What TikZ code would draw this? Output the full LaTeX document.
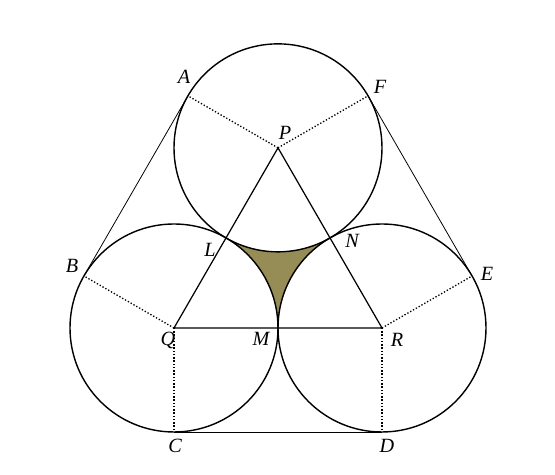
\documentclass[tikz,border=0pt]{standalone}
\usepackage{fontspec}
\setmainfont{Liberation Serif}
\usetikzlibrary{calc}
\definecolor{cS}{HTML}{968C55}
\tikzset{
  rim/.style={line width=0.8pt},
  side/.style={line width=0.7pt},
  spoke/.style={line width=0.75pt,dash pattern=on 0.75pt off 1.1pt},
  tang/.style={line width=0.45pt},
  lbl/.style={font=\fontsize{11.5}{13}\selectfont\itshape,inner sep=0pt},
}
\begin{document}
\begin{tikzpicture}[x=0.02cm,y=0.02cm]
  \useasboundingbox (0,0) rectangle (555,475);
  \def\r{104}
  \coordinate (Q) at (174,147);
  \coordinate (R) at (382,147);
  \coordinate (P) at ($(Q)!1!60:(R)$);
  \coordinate (L) at ($(P)!.5!(Q)$);
  \coordinate (N) at ($(P)!.5!(R)$);
  \coordinate (M) at ($(Q)!.5!(R)$);
  % points of contact of the belt
  \coordinate (A) at ($(P)+(150:\r)$);
  \coordinate (F) at ($(P)+(30:\r)$);
  \coordinate (B) at ($(Q)+(150:\r)$);
  \coordinate (C) at ($(Q)+(270:\r)$);
  \coordinate (D) at ($(R)+(270:\r)$);
  \coordinate (E) at ($(R)+(30:\r)$);
  \fill[cS] (L) arc[start angle=240,end angle=300,radius=\r]
     arc[start angle=120,end angle=180,radius=\r]
     arc[start angle=0,end angle=60,radius=\r] -- cycle;
  \foreach \c in {P,Q,R}
    \draw[rim] (\c) circle[radius=\r];
  \draw[side] (P) -- (Q) -- (R) -- cycle;
  \foreach \c/\t in {P/A,P/F,Q/B,Q/C,R/D,R/E}
    \draw[spoke] (\c) -- (\t);
  \foreach \s/\t in {A/B,C/D,E/F}
    \draw[tang] (\s) -- (\t);
  \foreach \p/\dx/\dy in {A/-4/19,F/12/9,P/7/15,L/-16/-12,N/22/-3,M/-17/-11,
                          Q/-6/-12,R/15/-12,C/1/-14,D/5/-14,B/-12/10,E/15/2}
    \node[lbl] (l\p) at ($(\p)+(\dx,\dy)$) {\p};
\end{tikzpicture}
\end{document}
